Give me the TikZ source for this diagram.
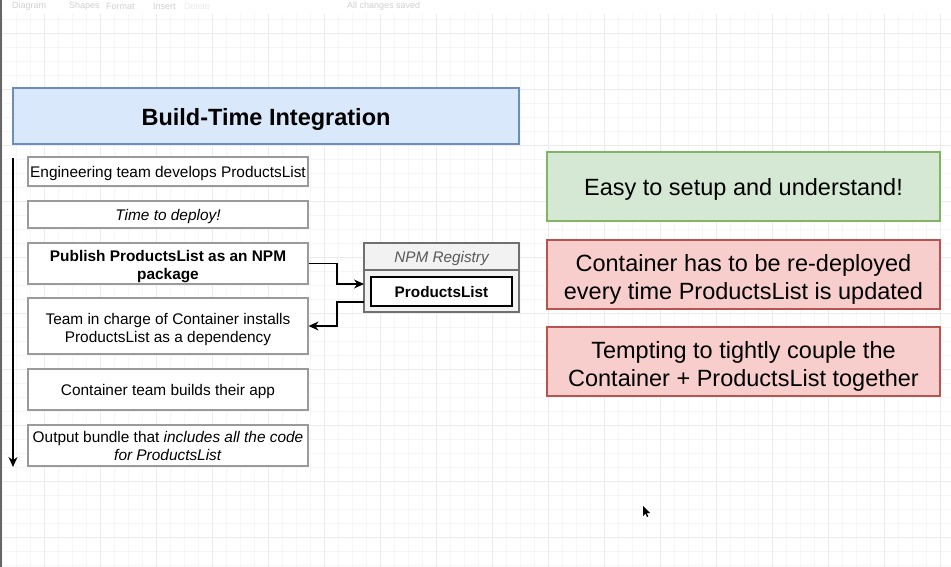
\documentclass[tikz,border=0pt]{standalone}
\usepackage{fontspec}
\setmainfont{Liberation Sans}
\usetikzlibrary{arrows.meta}
\definecolor{bluefill}{HTML}{DAE8FC}
\definecolor{blueline}{HTML}{6C8EBF}
\definecolor{greenfill}{HTML}{D5E8D4}
\definecolor{greenline}{HTML}{82B366}
\definecolor{redfill}{HTML}{F8CECC}
\definecolor{redline}{HTML}{B85450}
\definecolor{boxline}{HTML}{9A9A9A}
\definecolor{regfill}{HTML}{F2F2F2}
\definecolor{regline}{HTML}{707070}
\definecolor{gridminor}{HTML}{F6F6F6}
\definecolor{gridmajor}{HTML}{EBEBEB}
\tikzset{
  stepbox/.style={draw=boxline, line width=1.2pt, fill=white, minimum width=280pt, inner sep=0pt},
  steptext/.style={inner sep=0pt, align=center, font=\fontsize{15.4}{18}\selectfont},
  notebox/.style={line width=1.2pt, minimum width=393pt, minimum height=69pt, inner sep=0pt},
  notetext/.style={inner sep=0pt, align=center, font=\fontsize{23.5}{28}\selectfont},
  arr/.style={line width=1.2pt, -{Stealth[length=10pt,width=9pt]}},
  uitext/.style={text=black!18, font=\fontsize{9}{10}\selectfont, anchor=west, inner sep=0pt}
}
\begin{document}
\begin{tikzpicture}[x=1pt,y=-1pt]
\useasboundingbox (0,0) rectangle (951,567);
\fill[white] (0,0) rectangle (951,567);
% grid
\foreach \x in {2,16,...,950} \draw[gridminor, line width=0.6pt] (\x,14) -- (\x,567);
\foreach \y in {19,33,...,566} \draw[gridminor, line width=0.6pt] (0,\y) -- (951,\y);
\foreach \x in {44,100,...,950} \draw[gridmajor, line width=0.8pt] (\x,14) -- (\x,567);
\foreach \y in {33,89,...,566} \draw[gridmajor, line width=0.8pt] (0,\y) -- (951,\y);
\fill[black!60] (0,0) rectangle (2,567);
% faint toolbar
\node[uitext] (t1) at (12,6) {Diagram};
\node[uitext] (t2) at (69,6) {Shapes};
\node[uitext] (t3) at (106,6) {Format};
\node[uitext] (t4) at (153,6) {Insert};
\node[uitext, text=black!8] (t6) at (184,6) {Delete};
\node[uitext] (t5) at (347,6) {All changes saved};
% title
\node[draw=blueline, fill=bluefill, line width=1.2pt, minimum width=506pt, minimum height=56pt] (title) at (266,116) {};
\node[font=\fontsize{23.5}{28}\selectfont\bfseries, inner sep=0pt] (titletext) at (266,119.5) {Build-Time Integration};
% timeline
\coordinate (tl0) at (13,158);
\coordinate (tl1) at (13,467);
\draw[arr] (tl0) -- (tl1);
% steps
\node[stepbox, minimum height=29pt] (b1) at (168,171.5) {};
\node[steptext] (b1t) at ([yshift=-2pt]b1.center) {\strut Engineering team develops ProductsList};
\node[stepbox, minimum height=27pt] (b2) at (168,214.5) {};
\node[steptext] (b2t) at ([yshift=-2pt]b2.center) {\strut\itshape Time to deploy!};
\node[stepbox, minimum height=41pt] (b3) at (168,263.5) {};
\node[steptext, font=\fontsize{15.4}{18}\selectfont\bfseries] (b3t) at ([yshift=-3pt]b3.center) {\strut Publish ProductsList as an NPM\\\strut package};
\node[stepbox, minimum height=56pt] (b4) at (168,326) {};
\node[steptext] (b4t) at ([yshift=-3.5pt]b4.center) {\strut Team in charge of Container installs\\\strut ProductsList as a dependency};
\node[stepbox, minimum height=41pt] (b5) at (168,389.5) {};
\node[steptext] (b5t) at ([yshift=-2pt]b5.center) {\strut Container team builds their app};
\node[stepbox, minimum height=41pt] (b6) at (168,445.5) {};
\node[steptext] (b6t) at ([yshift=-2.5pt]b6.center) {\strut Output bundle that \textit{includes all the code}\\\strut\textit{for ProductsList}};
% registry
\node[draw=regline, fill=regfill, line width=1.2pt, minimum width=155pt, minimum height=69pt, inner sep=0pt] (reg) at (441.5,277.5) {};
\draw[regline, line width=1.2pt] (reg.west |- 0,270) -- (reg.east |- 0,270);
\node[text=black!65, font=\fontsize{15.3}{18}\selectfont\itshape] (regh) at (441.5,258.5) {NPM Registry};
\node[draw=black, fill=white, line width=1.5pt, minimum width=141pt, minimum height=29pt, inner sep=0pt] (pl) at (441.5,291.5) {};
\node[inner sep=0pt, font=\fontsize{15.3}{18}\selectfont\bfseries] (plt) at (441.5,293.5) {\strut ProductsList};
\coordinate (rin) at (364,284);
\coordinate (rout) at (364,302);
\draw[arr] (b3.east) -- (337,263.5) -- (337,284) -- (rin);
\draw[arr] (rout) -- (337,302) -- (337,326) -- (b4.east);
% notes
\node[notebox, draw=greenline, fill=greenfill] (n1) at (743.5,186.5) {};
\node[notetext] (n1t) at ([yshift=-3pt]n1.center) {\strut Easy to setup and understand!};
\node[notebox, draw=redline, fill=redfill] (n2) at (743.5,274.5) {};
\node[notetext] (n2t) at ([yshift=-5.5pt]n2.center) {\strut Container has to be re-deployed\\\strut every time ProductsList is updated};
\node[notebox, draw=redline, fill=redfill] (n3) at (743.5,361.5) {};
\node[notetext] (n3t) at ([yshift=-5.5pt]n3.center) {\strut Tempting to tightly couple the\\\strut Container + ProductsList together};
% mouse cursor
\fill[black] (643,506) -- (643,516) -- (645.5,513.5) -- (647,517) -- (648.3,516.4) -- (646.8,513) -- (650,513) -- cycle;
\end{tikzpicture}
\end{document}
